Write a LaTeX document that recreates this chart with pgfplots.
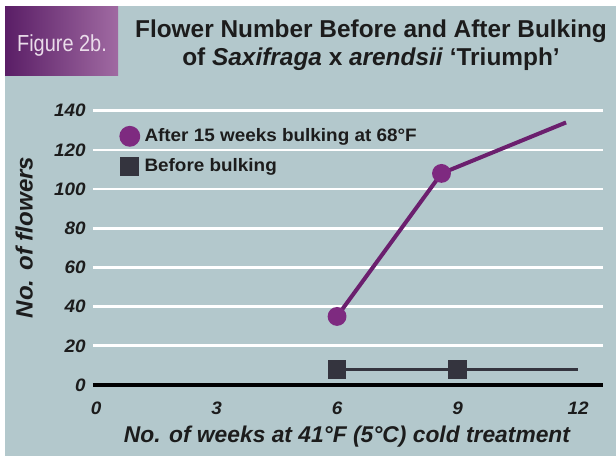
\documentclass[border=0pt]{standalone}
\usepackage{fontspec}
\setmainfont{Liberation Sans}
\newfontfamily\condfont{Liberation Sans}[FakeStretch=0.86]
\newfontfamily\titlefont{Liberation Sans}[FakeStretch=1.0]
\newfontfamily\labfont{Liberation Sans}[FakeStretch=1.0]
\newfontfamily\ylabfont{Liberation Sans}[FakeStretch=1.02]
\newfontfamily\tickfont{Liberation Sans}[FakeStretch=1.05]
\newfontfamily\legfont{Liberation Sans}[FakeStretch=1.05]
\usepackage{pgfplots}
\pgfplotsset{compat=1.18}
\definecolor{bg}{HTML}{B3C8CC}
\definecolor{purp}{HTML}{6B1F6E}
\definecolor{purpm}{HTML}{7E2A80}
\definecolor{sq}{HTML}{34343E}
\definecolor{boxL}{HTML}{5A1E66}
\definecolor{boxR}{HTML}{A06AA2}
\definecolor{figtext}{HTML}{EADCEA}
\definecolor{txt}{HTML}{1C1C1C}
\begin{document}
\begin{tikzpicture}
\useasboundingbox (0,0) rectangle (308pt,228pt);
\fill[white] (0,0) rectangle (308pt,228pt);
\fill[bg] (2.5pt,0) rectangle (308pt,225pt);
\shade[left color=boxL, right color=boxR] (2.5pt,190pt) rectangle (59pt,224.5pt);
\node[text=figtext, font=\condfont\fontsize{11.6}{14}\selectfont] at (31pt,205pt) {Figure 2b.};
\node[anchor=base, text=txt, font=\titlefont\bfseries\fontsize{12.2}{14}\selectfont] at (185.5pt,209.25pt)
  {Flower Number Before and After Bulking};
\node[anchor=base, text=txt, font=\titlefont\bfseries\fontsize{12.2}{14}\selectfont] at (185.5pt,195pt)
  {of \textit{Saxifraga} x \textit{arendsii} ‘Triumph’};
\begin{axis}[
  at={(46.5pt,35.5pt)}, anchor=south west,
  scale only axis, width=255pt, height=137.15pt,
  xmin=-0.075, xmax=12.62, ymin=0, ymax=140,
  clip=false,
  xtick={0,3,6,9,12}, ytick={0,20,...,140},
  major tick length=0pt,
  /pgf/number format/assume math mode=true,
  ymajorgrids, grid style={white, line width=1.35pt},
  axis x line*=bottom, axis y line*=left,
  x axis line style={black, line width=2.2pt, -},
  y axis line style={draw=none},
  tick label style={text=txt, font=\tickfont\bfseries\itshape\fontsize{9}{11}\selectfont},
  yticklabel style={anchor=east, inner sep=0pt, xshift=-3.5pt},
  xticklabel style={anchor=north, inner sep=0pt, yshift=-8.5pt},
  xlabel={No. of weeks at 41°F (5°C) cold treatment},
  ylabel={No. of flowers},
  xlabel style={text=txt, font=\labfont\bfseries\itshape\fontsize{11.4}{13}\selectfont,
    at={(axis description cs:0.498,-0.211)}, anchor=base},
  ylabel style={text=txt, font=\ylabfont\bfseries\itshape\fontsize{11.8}{14}\selectfont,
    at={(axis description cs:-0.135,0.538)}, anchor=center},
  legend style={at={(axis description cs:0.051,0.946)}, anchor=north west,
    draw=none, fill=none, inner sep=0pt, row sep=5pt, column sep=2.15pt,
    font=\legfont\bfseries\fontsize{9}{11}\selectfont, text=txt,
    nodes={inner sep=0pt}},
  legend cell align=left,
]
\addplot[purp, line width=2pt, mark=*, mark size=3.7pt, mark indices={1,2},
  mark options={fill=purpm, draw=purpm},
  legend image code/.code={\fill[purpm] (0pt,0pt) circle (4.2pt);}]
  coordinates {(6,35) (8.6,108) (11.7,134)};
\addlegendentry{After 15 weeks bulking at 68°F}
\addplot[sq, line width=1.75pt, mark=square*, mark size=3.8pt, mark indices={1,2},
  mark options={fill=sq, draw=sq},
  legend image code/.code={\fill[sq] (-3.9pt,-3.9pt) rectangle (3.9pt,3.9pt);}]
  coordinates {(6,8) (9,8) (12,8)};
\addlegendentry{Before bulking}
\end{axis}
\end{tikzpicture}
\end{document}
